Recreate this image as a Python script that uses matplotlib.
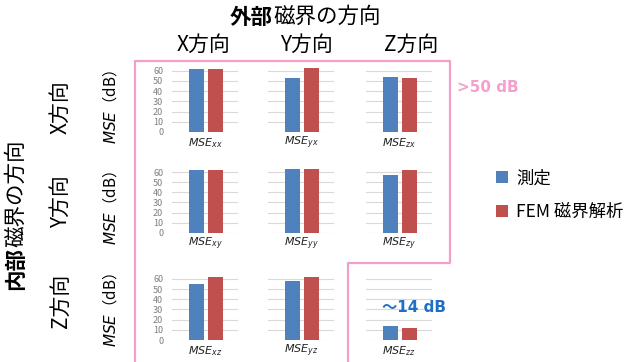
import matplotlib
matplotlib.use('Agg')
import matplotlib.pyplot as plt
from matplotlib.lines import Line2D

plt.rcParams['font.family'] = ['Noto Sans CJK JP', 'DejaVu Sans']
plt.rcParams['mathtext.fontset'] = 'dejavusans'

# ---- data ----
outer_dirs = ['X方向', 'Y方向', 'Z方向']      # columns (外部磁界)
inner_dirs = ['X方向', 'Y方向', 'Z方向']      # rows (内部磁界)
subscripts = [['xx', 'yx', 'zx'],
              ['xy', 'yy', 'zy'],
              ['xz', 'yz', 'zz']]
measured = [[61.4, 53.1, 54.1],
            [62.3, 63.0, 57.0],
            [55.0, 58.0, 14.0]]
fem = [[61.4, 62.9, 53.1],
       [62.3, 63.0, 62.3],
       [62.3, 62.3, 11.5]]
series_names = ['測定', 'FEM 磁界解析']
yticks = [0, 10, 20, 30, 40, 50, 60]

BLUE = '#4F81BD'
RED = '#C0504D'
PINK = '#F29FCB'

W, H = 627, 362
fig = plt.figure(figsize=(W / 100, H / 100), dpi=100)


def fx(x):
    return x / W


def fy(y):
    return 1 - y / H


col_left = [172, 268, 366]
col_w = 66
row_zero = [132, 232.7, 340]
px_per_unit = [1.022, 1.007, 1.017]
ymax = 66

handles = None
for i in range(3):
    for j in range(3):
        hpx = ymax * px_per_unit[i]
        ax = fig.add_axes([fx(col_left[j]), fy(row_zero[i]), col_w / W, hpx / H])
        b1 = ax.bar(0, measured[i][j], width=0.77, color=BLUE, label=series_names[0], zorder=3)
        b2 = ax.bar(1, fem[i][j], width=0.77, color=RED, label=series_names[1], zorder=3)
        if handles is None:
            handles = [b1, b2]
        ax.set_xlim(-1.305, 2.195)
        ax.set_ylim(0, ymax)
        ax.set_yticks(yticks)
        ax.set_xticks([])
        ax.yaxis.grid(True, color='#D9D9D9', lw=0.8)
        ax.set_axisbelow(True)
        for s in ax.spines.values():
            s.set_visible(False)
        ax.tick_params(axis='y', length=0, pad=6.3, labelsize=6.5, labelcolor='#7F7F7F')
        if j > 0:
            ax.tick_params(axis='y', labelleft=False)
        ax.text(0.5, -11 / hpx, r'$\mathit{MSE}_{\mathit{%s}}$' % subscripts[i][j],
                transform=ax.transAxes, ha='center', va='center', fontsize=8, color='#222222')

# ---- titles ----
fig.text(fx(273), fy(17), '外部', ha='right', va='center', fontsize=15.5, fontweight='bold')
fig.text(fx(273), fy(17), '磁界の方向', ha='left', va='center', fontsize=15.5)
col_centers = [204, 306, 411]
for c, lab in zip(col_centers, outer_dirs):
    fig.text(fx(c), fy(45), lab, ha='center', va='center', fontsize=15)

fig.text(fx(16), fy(247), '内部', ha='center', va='top', rotation=90, fontsize=15.5, fontweight='bold')
fig.text(fx(16), fy(247), '磁界の方向', ha='center', va='bottom', rotation=90, fontsize=15.5)
row_centers = [107, 202, 301]
for r, lab in zip(row_centers, inner_dirs):
    fig.text(fx(61), fy(r), lab, ha='center', va='center', rotation=90, fontsize=15)
mse_centers = [107, 208, 310]
for r in mse_centers:
    fig.text(fx(110), fy(r), r'$\mathit{MSE}$（dB）', ha='center', va='center', rotation=90,
             fontsize=11, family='Noto Sans CJK JP')

# ---- pink frame ----
frame_x = [135, 135, 450, 450, 348, 348]
frame_y = [370, 61, 61, 263, 263, 370]
fig.add_artist(Line2D([fx(v) for v in frame_x], [fy(v) for v in frame_y],
                      transform=fig.transFigure, color=PINK, lw=1.6))

fig.text(fx(457), fy(87), '>50 dB', ha='left', va='center', fontsize=11, fontweight='bold',
         color='#F5A0CC', family=['DejaVu Sans'])
fig.text(fx(414), fy(307), '～14 dB', ha='center', va='center', fontsize=11, fontweight='bold',
         color='#1F6FC5', family=['DejaVu Sans', 'Noto Sans CJK JP'])

# ---- legend ----
fig.legend(handles=handles, labels=series_names, loc='center left',
           bbox_to_anchor=(fx(480), fy(195)), frameon=False, fontsize=12.5,
           handlelength=0.7, handleheight=0.7, handletextpad=0.5, labelspacing=0.9)

fig.savefig('out.png', dpi=100)
